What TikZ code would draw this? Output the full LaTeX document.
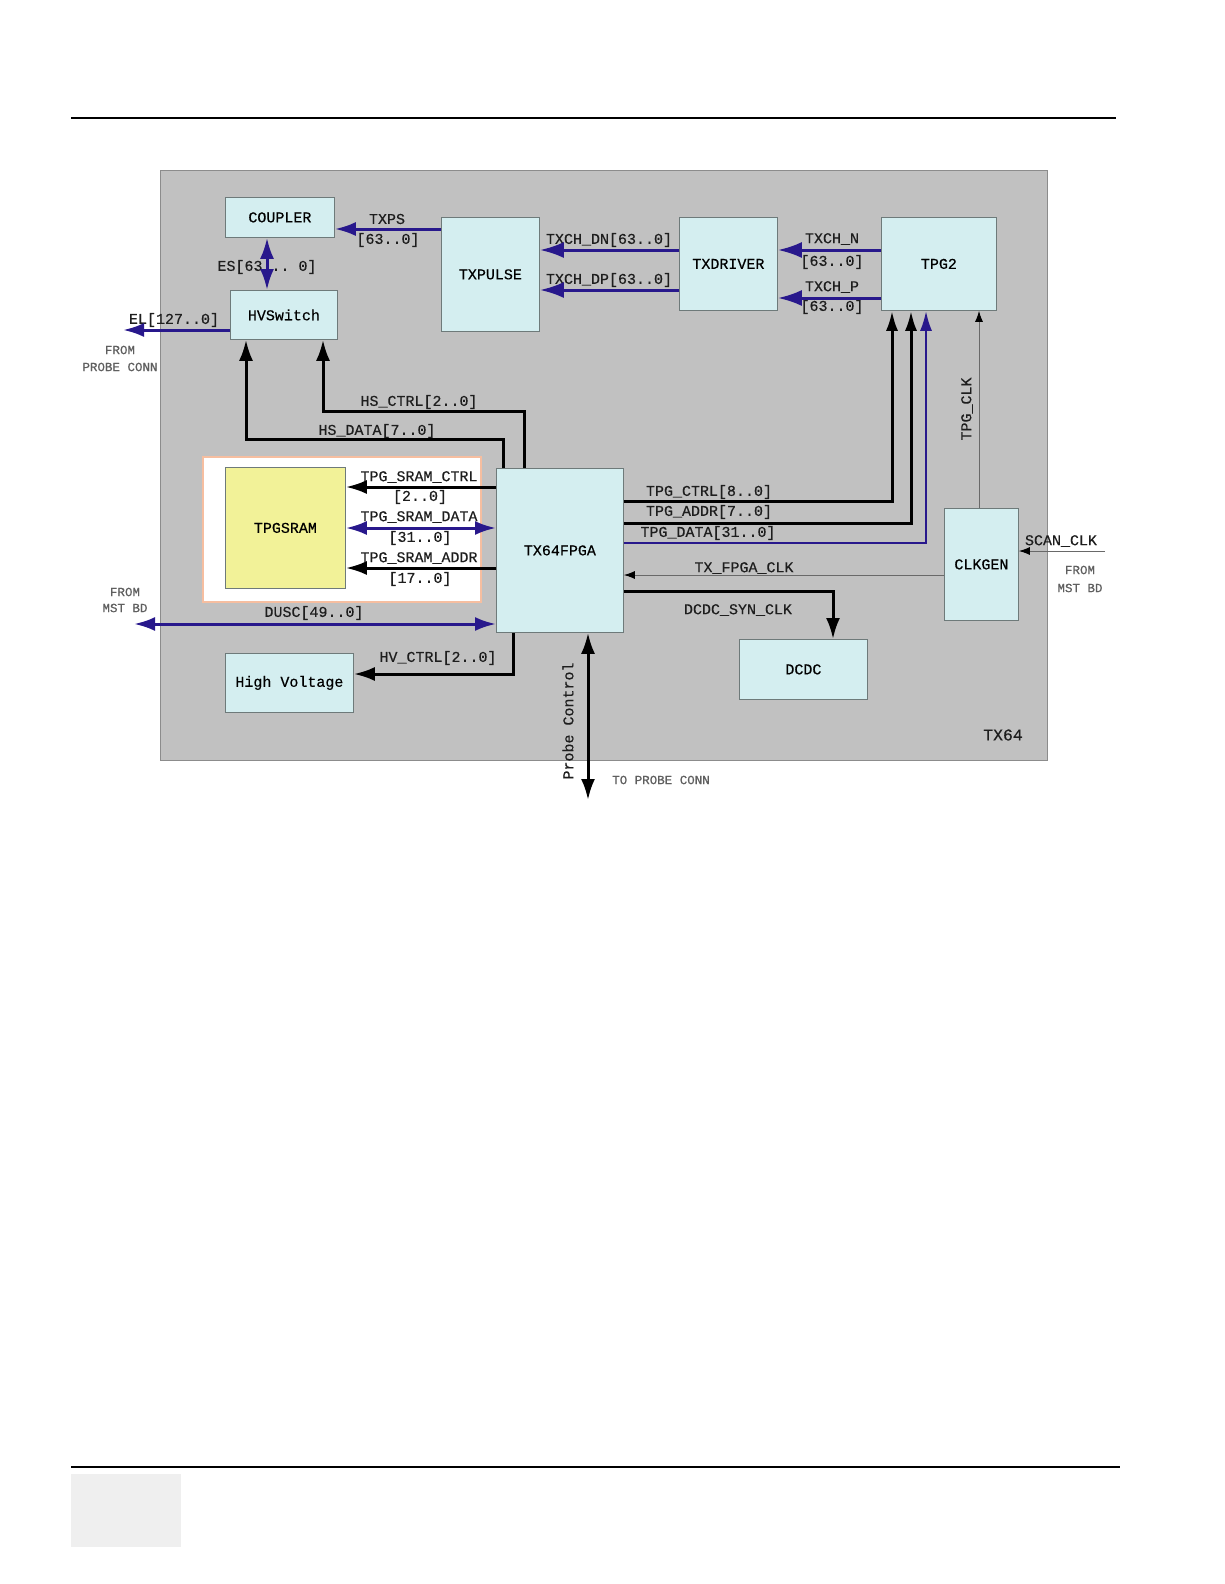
\documentclass[tikz,border=0pt]{standalone}
\usepackage{fontspec}
\setmonofont[FakeBold=0.4]{Liberation Mono}
\usetikzlibrary{arrows.meta}
\definecolor{navy}{RGB}{40,24,140}
\definecolor{bggray}{RGB}{193,193,193}
\definecolor{bgline}{RGB}{140,140,140}
\definecolor{boxfill}{RGB}{212,238,240}
\definecolor{boxline}{RGB}{110,122,122}
\definecolor{sramfill}{RGB}{242,242,152}
\definecolor{orangeline}{RGB}{246,190,160}
\definecolor{thingray}{RGB}{105,105,105}
\definecolor{labeltext}{RGB}{30,30,30}
\definecolor{smalltext}{RGB}{95,95,95}
\definecolor{footgray}{RGB}{239,239,239}
\tikzset{
  box/.style={draw=boxline, fill=boxfill, line width=0.8pt, anchor=north west, inner sep=0pt, text=black},
  lbl/.style={inner sep=0pt, text=labeltext},
  small/.style={inner sep=0pt, text=smalltext, font=\ttfamily\fontsize{12.5}{12.5}\selectfont},
  arb/.style={line width=3pt, draw=black, -{Latex[length=21pt,width=14pt]}},
  arbn/.style={line width=3pt, draw=black, -{Latex[length=20pt,width=12pt]}},
  arbl/.style={line width=3pt, draw=navy, -{Latex[length=21pt,width=14pt]}},
  arblw/.style={line width=3pt, draw=navy, -{Latex[length=24pt,width=16pt]}},
  arbln/.style={line width=2.5pt, draw=navy, -{Latex[length=20pt,width=12pt]}},
  darb/.style={line width=3pt, draw=black, {Latex[length=21pt,width=14pt]}-{Latex[length=21pt,width=14pt]}},
  darbl/.style={line width=3pt, draw=navy, {Latex[length=21pt,width=14pt]}-{Latex[length=21pt,width=14pt]}},
  thinar/.style={line width=1pt, draw=thingray, -{Latex[length=11pt,width=8pt,color=black]}}
}
\begin{document}
\begin{tikzpicture}[x=1pt,y=-1pt, font=\ttfamily\fontsize{15}{15}\selectfont]
\useasboundingbox (0,0) rectangle (1224,1584);
% page rules
\draw[line width=2pt] (71,118) -- (1116,118);
\draw[line width=1.2pt] (71,1467) -- (1120,1467);
\fill[footgray] (71,1474) rectangle (181,1547);
% background
\filldraw[fill=bggray, draw=bgline, line width=0.8pt] (160,170) rectangle (1047,760);
\filldraw[fill=white, draw=orangeline, line width=1.5pt] (203,457) rectangle (481,602);
% boxes
\node[box, minimum width=109pt, minimum height=40pt] (coupler) at (225,197) {COUPLER};
\node[box, minimum width=107pt, minimum height=49pt] (hvswitch) at (230,290) {HVSwitch};
\node[box, minimum width=98pt, minimum height=114pt] (txpulse) at (441,217) {TXPULSE};
\node[box, minimum width=98pt, minimum height=93pt] (txdriver) at (679,217) {TXDRIVER};
\node[box, minimum width=115pt, minimum height=93pt] (tpg2) at (881,217) {TPG2};
\node[box, fill=sramfill, minimum width=120pt, minimum height=121pt] (tpgsram) at (225,467) {TPGSRAM};
\node[box, minimum width=127pt, minimum height=164pt] (fpga) at (496,468) {TX64FPGA};
\node[box, minimum width=74pt, minimum height=112pt] (clkgen) at (944,508) {CLKGEN};
\node[box, minimum width=128pt, minimum height=60pt] (dcdc) at (739,639) {DCDC};
\node[box, minimum width=128pt, minimum height=59pt] (hv) at (225,653) {High Voltage};
% free ends
\coordinate (elend) at (123,330);
\coordinate (duscend) at (134,624);
\coordinate (probeend) at (588,800);
\coordinate (scanstart) at (1105,551);
% labels
\node[lbl] (l-txps) at (387,219) {TXPS};
\node[lbl] (l-txpsb) at (388,240) {[63..0]};
\node[lbl] (l-es) at (267,267) {ES[63 .. 0]};
\node[lbl] (l-el) at (174,320) {EL[127..0]};
\node[small] (l-from1) at (120,350) {FROM};
\node[small] (l-pc1) at (120,367) {PROBE CONN};
\node[lbl] (l-hsctrl) at (419,402) {HS\_CTRL[2..0]};
\node[lbl] (l-hsdata) at (377,431) {HS\_DATA[7..0]};
\node[lbl] (l-sc) at (419,477) {TPG\_SRAM\_CTRL};
\node[lbl] (l-scb) at (420,497) {[2..0]};
\node[lbl] (l-sd) at (419,517) {TPG\_SRAM\_DATA};
\node[lbl] (l-sdb) at (420,538) {[31..0]};
\node[lbl] (l-sa) at (419,558) {TPG\_SRAM\_ADDR};
\node[lbl] (l-sab) at (420,579) {[17..0]};
\node[lbl] (l-dusc) at (314,613) {DUSC[49..0]};
\node[lbl] (l-hvc) at (438,658) {HV\_CTRL[2..0]};
\node[lbl, rotate=90] (l-probe) at (568,721) {Probe Control};
\node[small] (l-topc) at (661,780) {TO PROBE CONN};
\node[small] (l-from2) at (125,592) {FROM};
\node[small] (l-mst2) at (125,608) {MST BD};
\node[lbl] (l-tctrl) at (709,492) {TPG\_CTRL[8..0]};
\node[lbl] (l-taddr) at (709,512) {TPG\_ADDR[7..0]};
\node[lbl] (l-tdata) at (708,533) {TPG\_DATA[31..0]};
\node[lbl] (l-txclk) at (744,568) {TX\_FPGA\_CLK};
\node[lbl] (l-dcdc) at (738,610) {DCDC\_SYN\_CLK};
\node[lbl] (l-scan) at (1061,541) {SCAN\_CLK};
\node[small] (l-from3) at (1080,570) {FROM};
\node[small] (l-mst3) at (1080,588) {MST BD};
\node[lbl, rotate=90] (l-tpgclk) at (967,409) {TPG\_CLK};
\node[lbl] (l-dn) at (609,240) {TXCH\_DN[63..0]};
\node[lbl] (l-dp) at (609,280) {TXCH\_DP[63..0]};
\node[lbl] (l-n) at (832,239) {TXCH\_N};
\node[lbl] (l-nb) at (832,262) {[63..0]};
\node[lbl] (l-p) at (832,287) {TXCH\_P};
\node[lbl] (l-pb) at (832,307) {[63..0]};
\node[lbl, font=\ttfamily\fontsize{16.5}{16.5}\selectfont] (l-tx64) at (1003,735) {TX64};
% connectors
\draw[arbl] (txpulse.west |- 0,229) -- (coupler.east |- 0,229);
\draw[darbl] (coupler.south -| 267,0) -- (hvswitch.north -| 267,0);
\draw[arbl] (hvswitch.west |- 0,330) -- (elend);
\draw[arb] (fpga.north -| 524,0) |- (323,411) -- (hvswitch.south -| 323,0);
\draw[arb] (fpga.north -| 503,0) |- (246,439) -- (hvswitch.south -| 246,0);
\draw[arb] (fpga.west |- 0,487) -- (tpgsram.east |- 0,487);
\draw[darbl] (fpga.west |- 0,528) -- (tpgsram.east |- 0,528);
\draw[arb] (fpga.west |- 0,568) -- (tpgsram.east |- 0,568);
\draw[darbl] (duscend) -- (fpga.west |- 0,624);
\draw[arb] (fpga.south -| 513,0) |- (hv.east |- 0,674);
\draw[darb] (fpga.south -| 588,0) -- (probeend);
\draw[arbn] (fpga.east |- 0,501) -| (tpg2.south -| 892,0);
\draw[arbn] (fpga.east |- 0,523) -| (tpg2.south -| 911,0);
\draw[arbln] (fpga.east |- 0,543) -| (tpg2.south -| 926,0);
\draw[thinar] (clkgen.north -| 979,0) -- (tpg2.south -| 979,0);
\draw[thinar] (clkgen.west |- 0,575) -- (fpga.east |- 0,575);
\draw[arb] (fpga.east |- 0,591) -| (dcdc.north -| 833,0);
\draw[thinar] (scanstart) -- (clkgen.east |- 0,551);
\draw[arblw] (txdriver.west |- 0,250) -- (txpulse.east |- 0,250);
\draw[arblw] (txdriver.west |- 0,290) -- (txpulse.east |- 0,290);
\draw[arblw] (tpg2.west |- 0,250) -- (txdriver.east |- 0,250);
\draw[arblw] (tpg2.west |- 0,298) -- (txdriver.east |- 0,298);
\end{tikzpicture}
\end{document}
